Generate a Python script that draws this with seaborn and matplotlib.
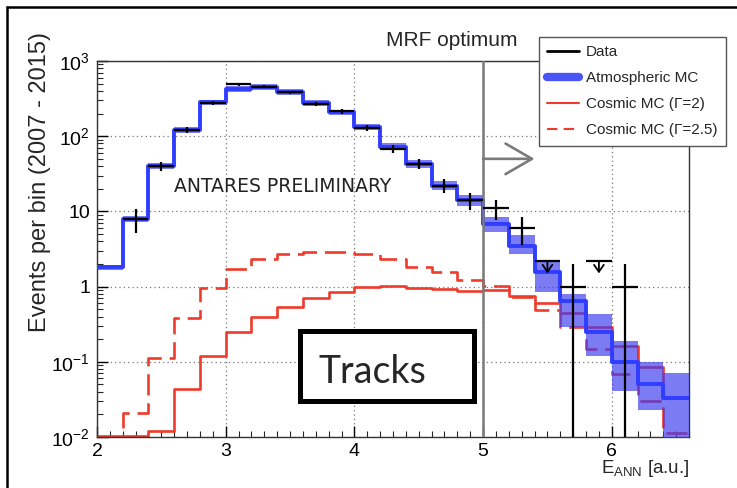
import numpy as np
import matplotlib
matplotlib.use("Agg")
import matplotlib.pyplot as plt
import seaborn as sns
from matplotlib.lines import Line2D
from matplotlib.patches import Rectangle
from matplotlib.ticker import LogLocator, NullFormatter, FixedLocator, FixedFormatter, MultipleLocator

# ---------------- data ----------------
bin_edges = [2.0, 2.2, 2.4, 2.6, 2.8, 3.0, 3.2, 3.4, 3.6, 3.8, 4.0, 4.2,
             4.4, 4.6, 4.8, 5.0, 5.2, 5.4, 5.6, 5.8, 6.0, 6.2, 6.4, 6.6]

atm_mc = [1.8, 8.0, 40, 121, 281, 423, 454, 390, 278, 207, 133, 72,
          43, 22, 14, 6.8, 3.5, 1.55, 0.64, 0.25, 0.098, 0.050, 0.033]
atm_lo = [1.65, 7.3, 36.5, 111, 258, 388, 417, 358, 255, 190, 121, 65,
          38, 19, 11.8, 5.4, 2.7, 0.84, 0.29, 0.12, 0.041, 0.023, 0.009]
atm_hi = [1.95, 8.8, 44, 132, 306, 460, 494, 425, 303, 226, 146, 80,
          48, 25.5, 16.5, 8.3, 4.8, 2.2, 0.80, 0.43, 0.19, 0.10, 0.07]

cosmic_g2 = [0.0102, 0.0102, 0.012, 0.043, 0.12, 0.246, 0.40, 0.54, 0.70, 0.86, 0.99, 1.02,
             0.97, 0.92, 0.88, 0.90, 0.75, 0.60, 0.44, 0.29, 0.163, 0.084, 0.033]
cosmic_g25 = [0.005, 0.021, 0.114, 0.38, 0.96, 1.72, 2.34, 2.73, 2.87, 2.87, 2.73, 2.34,
              1.81, 1.55, 1.24, 1.03, 0.72, 0.49, 0.29, 0.148, 0.069, 0.030, 0.0114]

data_x = [2.3, 2.5, 2.7, 2.9, 3.1, 3.3, 3.5, 3.7, 3.9, 4.1, 4.3, 4.5, 4.7, 4.9,
          5.1, 5.3, 5.7, 6.1]
data_y = [8, 40, 120, 280, 490, 455, 385, 267, 215, 130, 68, 43, 22, 14,
          11, 6, 1, 1]
data_lo = [5.2, 34, 109, 263, 468, 434, 365, 251, 200, 119, 60, 36.5, 17.3, 10.3,
           7.7, 3.6, 0.001, 0.001]
data_hi = [10.8, 46, 131, 297, 512, 476, 405, 283, 230, 141, 76, 49.5, 26.7, 17.7,
           14.3, 8.4, 2.0, 2.0]
data_xerr = 0.1

ul_x = [5.5, 5.9]
ul_y = [2.2, 2.2]
ul_tip = [1.5, 1.5]

mrf_cut = 5.0
arrow_end = 5.40
arrow_y = 50

ytick_vals = [1e-2, 1e-1, 1, 10, 1e2, 1e3]
ytick_labels = ["$10^{-2}$", "$10^{-1}$", "1", "10", "$10^{2}$", "$10^{3}$"]
xtick_vals = [2, 3, 4, 5, 6]

# ---------------- style ----------------
sns.set_theme(style="ticks")
plt.rcParams['font.family'] = ['Liberation Sans', 'DejaVu Sans']
plt.rcParams['mathtext.fontset'] = 'custom'
plt.rcParams['mathtext.rm'] = 'Liberation Sans'
plt.rcParams['mathtext.it'] = 'Liberation Sans:italic'
plt.rcParams['mathtext.bf'] = 'Liberation Sans:bold'

RED = "#ee3b2b"
BLUE = "#2f3dff"
BAND = "#3c3cf0"

fig = plt.figure(figsize=(7.37, 4.88), dpi=100)
ax = fig.add_axes([97/737, 1-437/488, (689-97)/737, (437-61)/488])
ax.set_yscale('log')

edges = np.array(bin_edges)
def stepvals(v):
    v = np.asarray(v, dtype=float)
    return np.append(v, v[-1])

# cosmic MC lines (below band)
sns.lineplot(x=edges, y=stepvals(cosmic_g2), drawstyle='steps-post', estimator=None,
             sort=False, color=RED, lw=1.9, ax=ax, zorder=2)
sns.lineplot(x=edges, y=stepvals(cosmic_g25), drawstyle='steps-post', estimator=None,
             sort=False, color=RED, lw=1.9, linestyle=(0, (8, 3)), ax=ax, zorder=2)

# atmospheric band + line
ax.fill_between(edges, stepvals(atm_lo), stepvals(atm_hi), step='post',
                color=BAND, alpha=0.68, lw=0, zorder=3)
sns.lineplot(x=edges, y=stepvals(atm_mc), drawstyle='steps-post', estimator=None,
             sort=False, color=BLUE, lw=2.8, ax=ax, zorder=4)

# MRF line
ax.axvline(mrf_cut, color='#7a7a7a', lw=1.8, zorder=5)
ax.annotate('', xy=(arrow_end, arrow_y), xytext=(mrf_cut, arrow_y),
            arrowprops=dict(arrowstyle='->,head_length=1.9,head_width=1.1',
                            color='#7a7a7a', lw=1.9, shrinkA=0, shrinkB=0,
                            mutation_scale=10), zorder=5)

# data
dy = np.array(data_y, dtype=float)
yerr = [dy - np.array(data_lo), np.array(data_hi) - dy]
ax.errorbar(data_x, dy, yerr=yerr, xerr=data_xerr, fmt='none', ecolor='black',
            elinewidth=1.6, capsize=0, zorder=6)
ax.errorbar(ul_x, ul_y, xerr=data_xerr, fmt='none', ecolor='black',
            elinewidth=1.6, capsize=0, zorder=6)
for x, y0, y1 in zip(ul_x, ul_y, ul_tip):
    ax.annotate('', xy=(x, y1), xytext=(x, y0),
                arrowprops=dict(arrowstyle='->,head_length=0.5,head_width=0.35',
                                color='black', lw=1.3, shrinkA=0, shrinkB=0,
                                mutation_scale=10), zorder=6)

# axes
ax.set_xlim(2.0, 6.6)
ax.set_ylim(1e-2, 1e3)
ax.yaxis.set_major_locator(FixedLocator(ytick_vals))
ax.yaxis.set_major_formatter(FixedFormatter(ytick_labels))
ax.yaxis.set_minor_locator(LogLocator(base=10, subs=np.arange(2, 10)))
ax.yaxis.set_minor_formatter(NullFormatter())
ax.set_xticks(xtick_vals)
ax.set_xticklabels([str(v) for v in xtick_vals])
ax.xaxis.set_minor_locator(MultipleLocator(0.1))
ax.tick_params(which='major', direction='in', length=8, width=1, labelsize=14,
               pad=5, colors='black')
ax.tick_params(axis='x', which='major', pad=4)
ax.tick_params(which='minor', direction='in', length=4, width=0.8)
ax.grid(True, which='major', linestyle=(0, (1, 2.5)), color='#777777', lw=0.9, zorder=1)
ax.set_axisbelow(True)
for s in ax.spines.values():
    s.set_color('#333333')
    s.set_linewidth(1.0)
ax.set_xlabel('')
ax.set_ylabel('')

# labels
fig.text(40/737, 1-182/488, 'Events per bin (2007 - 2015)', rotation=90,
         ha='center', va='center', fontsize=17)
fig.text(689/737, 1-473/488, r'E$_{\mathrm{ANN}}$ [a.u.]', ha='right', va='baseline',
         fontsize=13.5)
fig.text(452/737, 1-40/488, 'MRF optimum', ha='center', va='center', fontsize=15)
fig.text(283/737, 1-187/488, 'ANTARES PRELIMINARY', ha='center', va='center',
         fontsize=13.5, color='#222222', family='DejaVu Sans')

# Tracks box
fig.add_artist(Rectangle((299.5/737, 1-400.5/488), 174/737, 70/488,
                         transform=fig.transFigure, facecolor='white',
                         edgecolor='black', lw=3.6, zorder=10))
fig.text(372.5/737, 1-383/488, 'Tracks', ha='center', va='baseline',
         fontsize=27, family=['Lato', 'DejaVu Sans'], zorder=11)

# legend
handles = [Line2D([], [], color='black', lw=2),
           Line2D([], [], color='#4a55f5', lw=6),
           Line2D([], [], color=RED, lw=1.5),
           Line2D([], [], color=RED, lw=1.5, linestyle=(0, (5, 3)))]
labels = ['Data', 'Atmospheric MC', 'Cosmic MC (\u0393=2)', 'Cosmic MC (\u0393=2.5)']
leg = fig.legend(handles, labels, loc='upper right', bbox_to_anchor=(726/737, 1-37/488),
                 bbox_transform=fig.transFigure, fontsize=11, frameon=True,
                 fancybox=False, framealpha=1, edgecolor='#555555',
                 handlelength=2.1, handletextpad=0.45, labelspacing=0.78,
                 borderpad=0.55, borderaxespad=0)
leg.get_frame().set_linewidth(1.0)
leg.set_zorder(12)

# image frame (top and left)
fig.add_artist(Line2D([7/737, 7/737], [0, 1-7/488], transform=fig.transFigure,
                      color='black', lw=1.8))
fig.add_artist(Line2D([7/737, 1], [1-7/488, 1-7/488], transform=fig.transFigure,
                      color='black', lw=1.8))

fig.savefig('out.png', dpi=100)
